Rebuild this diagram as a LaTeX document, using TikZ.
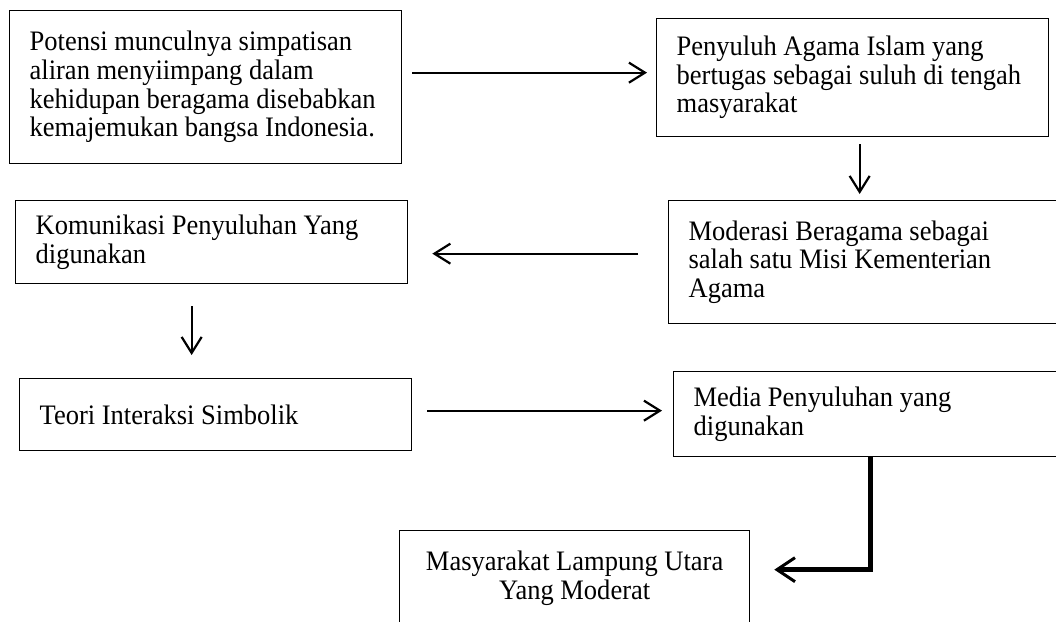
\documentclass[tikz,border=0pt]{standalone}
\usepackage{fontspec}
\setmainfont{Liberation Serif}[FakeStretch=0.94]
\usetikzlibrary{arrows.meta, calc}

\begin{document}
\begin{tikzpicture}[x=1pt, y=-1pt,
    kotak/.style={draw, line width=1.3pt, anchor=north west, align=flush left,
      inner xsep=20pt, inner ysep=0pt, font=\fontsize{28.2}{28.6}\selectfont},
    panah/.style={-{Straight Barb[length=16pt,width=20pt]}, line width=2.2pt}]

    \useasboundingbox (0,0) rectangle (1056,621);

    \node[kotak, text width=352pt, minimum height=153pt] (potensi) at (9,10)
      {Potensi munculnya simpatisan\\ aliran menyiimpang dalam\\ kehidupan beragama disebabkan\\ kemajemukan bangsa Indonesia.};
    \node[kotak, text width=352pt, minimum height=118pt] (penyuluh) at (656,18)
      {Penyuluh Agama Islam yang\\ bertugas sebagai suluh di tengah\\ masyarakat};
    \node[kotak, text width=357pt, minimum height=123pt] (moderasi) at (668,200)
      {Moderasi Beragama sebagai\\ salah satu Misi Kementerian\\ Agama};
    \node[kotak, text width=352pt, minimum height=83pt] (komunikasi) at (15,200)
      {Komunikasi Penyuluhan Yang\\ digunakan};
    \node[kotak, text width=352pt, minimum height=72pt] (teori) at (19,378)
      {Teori Interaksi Simbolik};
    \node[kotak, text width=354pt, minimum height=85pt] (media) at (673,371)
      {Media Penyuluhan yang\\ digunakan};
    \node[kotak, text width=310pt, align=flush center, minimum height=95pt] (masyarakat) at (399,530)
      {Masyarakat Lampung Utara\\ Yang Moderat};

    \draw[panah] ($(potensi.east |- penyuluh.west)+(10,-5)$) -- ($(penyuluh.west)+(-9,-5)$);
    \draw[panah] ($(penyuluh.south)+(7,7)$) -- ($(penyuluh.south |- moderasi.north)+(7,-6)$);
    \draw[panah] ($(moderasi.west)+(-30,-8.5)$) -- ($(komunikasi.east |- moderasi.west)+(24,-8.5)$);
    \draw[panah] ($(komunikasi.south)+(-20,22)$) -- ($(komunikasi.south |- teori.north)+(-20,-23)$);
    \draw[panah] ($(teori.east)+(15,-4)$) -- ($(media.west |- teori.east)+(-11,-4)$);
    \draw[panah, line width=5pt, -{Straight Barb[length=18pt,width=24pt,line width=3pt]}]
      (media.south) |- ($(masyarakat.east)+(24,-8.5)$);
\end{tikzpicture}
\end{document}
